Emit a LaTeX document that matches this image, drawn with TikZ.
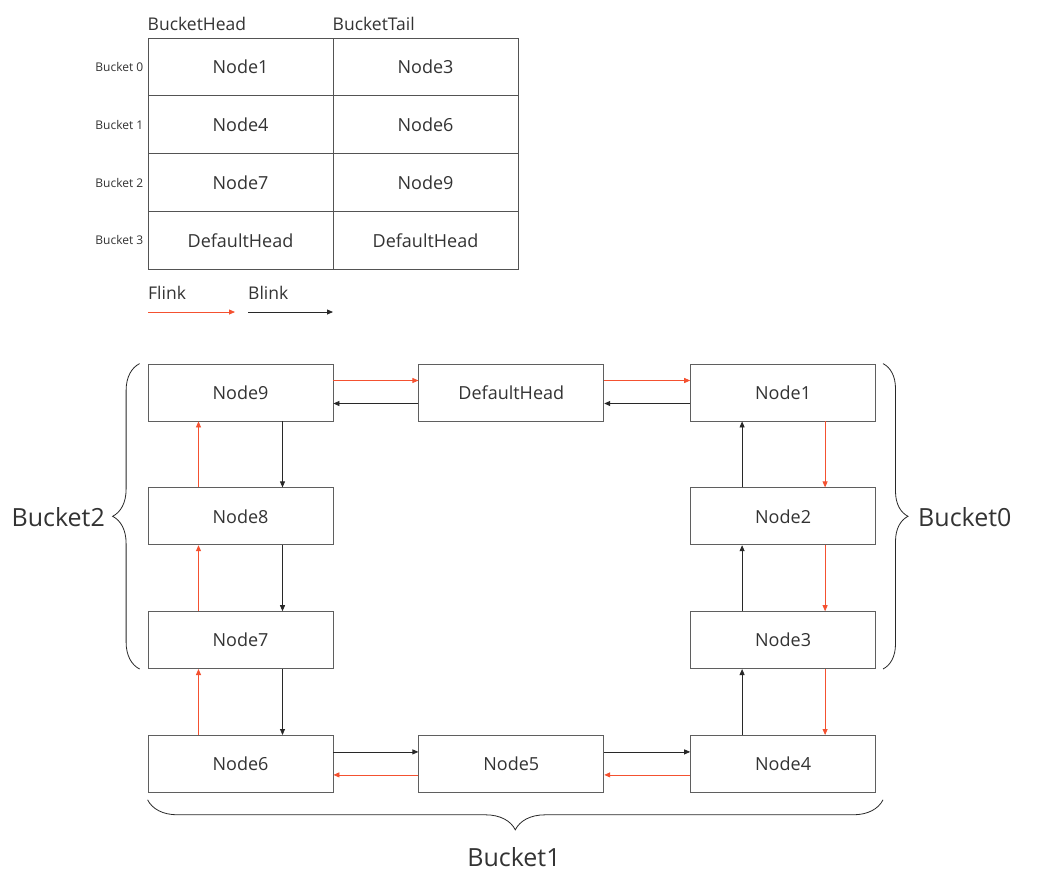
\documentclass[tikz,border=0pt]{standalone}
\usepackage{fontspec}
\setmainfont{Open Sans}
\usetikzlibrary{arrows.meta, positioning, decorations.pathreplacing}
\definecolor{flinkRed}{RGB}{244,81,48}
\definecolor{boxGray}{RGB}{95,95,95}
\definecolor{lineDark}{RGB}{40,40,40}
\definecolor{textGray}{RGB}{51,51,51}

\begin{document}
\begin{tikzpicture}[x=1pt, y=-1pt,
    every node/.style={text=textGray},
    box/.style={draw=boxGray, line width=0.8pt, minimum width=185pt,
                minimum height=57pt, inner sep=0pt,
                font=\fontsize{18}{21}\selectfont},
    cell/.style={box, draw=lineDark!80, line width=1pt, minimum height=57.75pt},
    flink/.style={draw=flinkRed, line width=0.8pt, -{Triangle[length=6pt, width=5pt]}},
    blink/.style={draw=lineDark, line width=0.8pt, -{Triangle[length=6pt, width=5pt]}},
    bucketbrace/.style={draw=lineDark, line width=0.8pt, decorate,
                        decoration={brace, amplitude=#1}},
    bigLabel/.style={inner sep=0pt, font=\fontsize{25}{28}\selectfont},
  ]
  \useasboundingbox[fill=white] (0,0) rectangle (1042,871);

  % bucket table
  \foreach \head/\tail [count=\i from 0] in {Node1/Node3, Node4/Node6, Node7/Node9, DefaultHead/DefaultHead} {
    \node[cell] (head\i) at (240.5, {67+57.75*\i}) {\head};
    \node[cell] (tail\i) at (425.5, {67+57.75*\i}) {\tail};
    \node[left=4pt of head\i, inner sep=0pt, font=\fontsize{12}{14}\selectfont] (row\i) {Bucket \i};
  }
  \node[anchor=base west, inner sep=0pt, font=\fontsize{17.5}{20}\selectfont] (headTitle)
    at ([yshift=7pt]head0.north west) {BucketHead};
  \node[anchor=base west, inner sep=0pt, font=\fontsize{17.5}{20}\selectfont] (tailTitle)
    at ([yshift=7pt]tail0.north west) {BucketTail};

  % legend
  \node[anchor=west, inner sep=0pt, font=\fontsize{17.5}{20}\selectfont] (flinkLabel) at (148,293) {Flink};
  \node[anchor=west, inner sep=0pt, font=\fontsize{17.5}{20}\selectfont] (blinkLabel) at (248,293) {Blink};
  \coordinate (flinkFrom) at (148,312);
  \coordinate (flinkTo) at (235,312);
  \coordinate (blinkFrom) at (248,312);
  \coordinate (blinkTo) at (333,312);
  \draw[flink] (flinkFrom) -- (flinkTo);
  \draw[blink] (blinkFrom) -- (blinkTo);

  % list ring
  \node[box] (n9) at (240.5,392.5) {Node9};
  \node[box, right=85pt of n9] (dh) {DefaultHead};
  \node[box, right=86pt of dh] (n1) {Node1};
  \node[box, below=66pt of n1] (n2) {Node2};
  \node[box, below=66pt of n2] (n3) {Node3};
  \node[box, below=66pt of n3] (n4) {Node4};
  \node[box, below=66pt of n9] (n8) {Node8};
  \node[box, below=66pt of n8] (n7) {Node7};
  \node[box, below=66pt of n7] (n6) {Node6};
  \node[box, right=85pt of n6] (n5) {Node5};

  % top row
  \draw[flink] ([yshift=12pt]n9.east) -- ([yshift=12pt]dh.west);
  \draw[blink] ([yshift=-11pt]dh.west) -- ([yshift=-11pt]n9.east);
  \draw[flink] ([yshift=12pt]dh.east) -- ([yshift=12pt]n1.west);
  \draw[blink] ([yshift=-11pt]n1.west) -- ([yshift=-11pt]dh.east);
  % right column
  \draw[flink] ([xshift=42pt]n1.south) -- ([xshift=42pt]n2.north);
  \draw[blink] ([xshift=-41pt]n2.north) -- ([xshift=-41pt]n1.south);
  \draw[flink] ([xshift=42pt]n2.south) -- ([xshift=42pt]n3.north);
  \draw[blink] ([xshift=-41pt]n3.north) -- ([xshift=-41pt]n2.south);
  \draw[flink] ([xshift=42pt]n3.south) -- ([xshift=42pt]n4.north);
  \draw[blink] ([xshift=-41pt]n4.north) -- ([xshift=-41pt]n3.south);
  % bottom row
  \draw[flink] ([yshift=-11pt]n4.west) -- ([yshift=-11pt]n5.east);
  \draw[blink] ([yshift=12pt]n5.east) -- ([yshift=12pt]n4.west);
  \draw[flink] ([yshift=-11pt]n5.west) -- ([yshift=-11pt]n6.east);
  \draw[blink] ([yshift=12pt]n6.east) -- ([yshift=12pt]n5.west);
  % left column
  \draw[flink] ([xshift=-42pt]n6.north) -- ([xshift=-42pt]n7.south);
  \draw[blink] ([xshift=42pt]n7.south) -- ([xshift=42pt]n6.north);
  \draw[flink] ([xshift=-42pt]n7.north) -- ([xshift=-42pt]n8.south);
  \draw[blink] ([xshift=42pt]n8.south) -- ([xshift=42pt]n7.north);
  \draw[flink] ([xshift=-42pt]n8.north) -- ([xshift=-42pt]n9.south);
  \draw[blink] ([xshift=42pt]n9.south) -- ([xshift=42pt]n8.north);

  % buckets
  \draw[bucketbrace=27pt] ([xshift=-8pt]n7.south west) -- ([xshift=-8pt]n9.north west);
  \draw[bucketbrace=25pt] ([xshift=7pt]n1.north east) -- ([xshift=7pt]n3.south east);
  \draw[bucketbrace=30pt] ([xshift=7pt, yshift=-7pt]n4.south east) -- ([yshift=-7pt]n6.south west);
  \node[bigLabel, anchor=east] (bucket2Label) at (105,517) {Bucket2};
  \node[bigLabel, anchor=west] (bucket0Label) at (918,517) {Bucket0};
  \node[bigLabel] (bucket1Label) at (514,857) {Bucket1};
\end{tikzpicture}
\end{document}
